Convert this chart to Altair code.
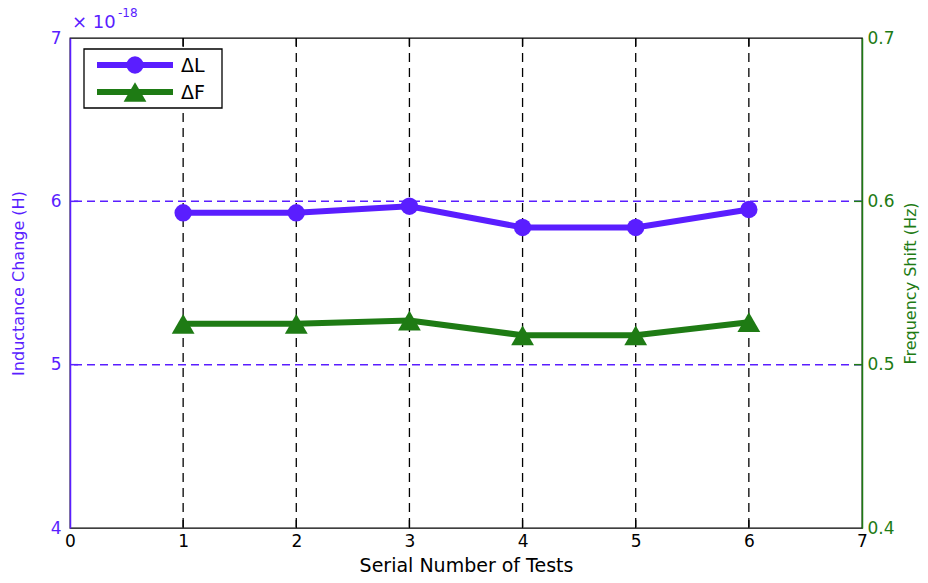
import altair as alt
import pandas as pd

# Test serial numbers and the measured changes
tests = [1, 2, 3, 4, 5, 6]
delta_L = [5.93, 5.93, 5.97, 5.84, 5.84, 5.95]        # inductance change, x 1e-18 H
delta_F = [0.525, 0.525, 0.527, 0.518, 0.518, 0.526]  # frequency shift, Hz

x_ticks = [0, 1, 2, 3, 4, 5, 6, 7]
left_ticks = [4, 5, 6, 7]
right_ticks = [0.4, 0.5, 0.6, 0.7]
grid_left = [5, 6]
grid_right = [0.5, 0.6]

PURPLE = "#5a1eff"
GREEN = "#1e7b14"
FONT = "DejaVu Sans"
W, H = 792, 490

dfL = pd.DataFrame({"test": tests, "v": delta_L})
dfF = pd.DataFrame({"test": tests, "v": delta_F})
df_vgrid = pd.DataFrame({"test": tests})
df_hgrid = pd.DataFrame({"v": grid_left})
df_rgrid = pd.DataFrame({"v": grid_right})

x_axis = alt.Axis(values=x_ticks, format="d", grid=False, domain=False, ticks=False,
                  labelFontSize=17, labelColor="black", labelPadding=5, labelFlush=False,
                  title="Serial Number of Tests", titleFontSize=19, titleFontWeight="normal",
                  titleColor="black", titlePadding=7)
x_enc = alt.X("test:Q", scale=alt.Scale(domain=[0, 7], nice=False, zero=False), axis=x_axis)

left_axis = alt.Axis(orient="left", values=left_ticks, format="d", grid=False,
                     domainColor=PURPLE, domainWidth=1.5, ticks=False,
                     labelFontSize=17, labelColor=PURPLE, labelPadding=9,
                     title="Inductance Change (H)", titleFontSize=16,
                     titleFontWeight="normal", titleColor=PURPLE, titlePadding=24)
yL = alt.Y("v:Q", scale=alt.Scale(domain=[4, 7], nice=False, zero=False), axis=left_axis)

right_axis = alt.Axis(orient="right", values=right_ticks, format=".1f", grid=False,
                      domainColor=GREEN, domainWidth=1.5, ticks=False,
                      labelFontSize=17, labelColor=GREEN, labelPadding=5,
                      title="Frequency Shift (Hz)", titleFontSize=16, titleAngle=270,
                      titleBaseline="top", titleFontWeight="normal", titleColor=GREEN,
                      titlePadding=8)
yF = alt.Y("v:Q", scale=alt.Scale(domain=[0.4, 0.7], nice=False, zero=False), axis=right_axis)

# dashed grid
vgrid = alt.Chart(df_vgrid).mark_rule(color="black", strokeDash=[9, 6], strokeWidth=1.3).encode(x=x_enc)
hgrid = alt.Chart(df_hgrid).mark_rule(color=PURPLE, strokeDash=[8, 5], strokeWidth=1.5).encode(y=yL)

# inward tick marks
top_ticks = alt.Chart(df_vgrid).mark_rule(color="black", strokeWidth=1.3).encode(
    x=x_enc, y=alt.value(0), y2=alt.value(8))
bot_ticks = alt.Chart(df_vgrid).mark_rule(color="black", strokeWidth=1.3).encode(
    x=x_enc, y=alt.value(H - 8), y2=alt.value(H))
l_ticks = alt.Chart(df_hgrid).mark_rule(color=PURPLE, strokeWidth=1.5).encode(
    y=yL, x=alt.value(0), x2=alt.value(8))
r_ticks = alt.Chart(df_rgrid).mark_rule(color=GREEN, strokeWidth=1.5).encode(
    y=yF, x=alt.value(W - 8), x2=alt.value(W))

lineL = alt.Chart(dfL).mark_line(color=PURPLE, strokeWidth=6).encode(x=x_enc, y=yL)
ptsL = alt.Chart(dfL).mark_point(shape="circle", size=300, filled=True, color=PURPLE,
                                 opacity=1).encode(x=x_enc, y=yL)

lineF = alt.Chart(dfF).mark_line(color=GREEN, strokeWidth=6).encode(x=x_enc, y=yF)
ptsF = alt.Chart(dfF).mark_point(shape="triangle-up", size=520, filled=True, color=GREEN,
                                 opacity=1).encode(x=x_enc, y=yF)

left = alt.layer(hgrid, vgrid, top_ticks, bot_ticks, l_ticks, lineL, ptsL)
right = alt.layer(r_ticks, lineF, ptsF)

# exponent label above the left axis
exp_main = alt.Chart(pd.DataFrame({"t": ["× 10"]})).mark_text(
    font=FONT, fontSize=18, color=PURPLE, align="left", baseline="alphabetic").encode(
    text="t:N", x=alt.value(2), y=alt.value(-10))
exp_sup = alt.Chart(pd.DataFrame({"t": ["-18"]})).mark_text(
    font=FONT, fontSize=12, color=PURPLE, align="left", baseline="alphabetic").encode(
    text="t:N", x=alt.value(48), y=alt.value(-21))

# legend
leg_box = alt.Chart(pd.DataFrame({"a": [0]})).mark_rect(fill="white", stroke="black",
                                                        strokeWidth=1.3).encode(
    x=alt.value(14), x2=alt.value(152), y=alt.value(11), y2=alt.value(70))
legend_names = ["ΔL", "ΔF"]
legend_rows = [27, 54]
leg_layers = [leg_box]
for name, row, col, shape, size in zip(legend_names, legend_rows, [PURPLE, GREEN],
                                       ["circle", "triangle-up"], [300, 520]):
    d = pd.DataFrame({"t": [name]})
    leg_layers.append(alt.Chart(d).mark_rule(color=col, strokeWidth=6).encode(
        x=alt.value(27), x2=alt.value(103), y=alt.value(row)))
    leg_layers.append(alt.Chart(d).mark_point(shape=shape, size=size, filled=True, color=col,
                                              opacity=1).encode(
        x=alt.value(65), y=alt.value(row)))
    leg_layers.append(alt.Chart(d).mark_text(font=FONT, fontSize=19, color="black",
                                             align="left", baseline="middle").encode(
        text="t:N", x=alt.value(111), y=alt.value(row + 1)))

chart = alt.layer(left, right, exp_main, exp_sup, *leg_layers).resolve_scale(
    y="independent"
).properties(
    width=W, height=H,
    autosize=alt.AutoSizeParams(type="none"),
    padding={"left": 70, "top": 38, "right": 66, "bottom": 55},
    background="white",
).configure_view(
    stroke="black", strokeWidth=1.3
).configure_axis(
    labelFont=FONT, titleFont=FONT
)

chart.save("out.html", embed_options={"renderer": "svg", "actions": False})
